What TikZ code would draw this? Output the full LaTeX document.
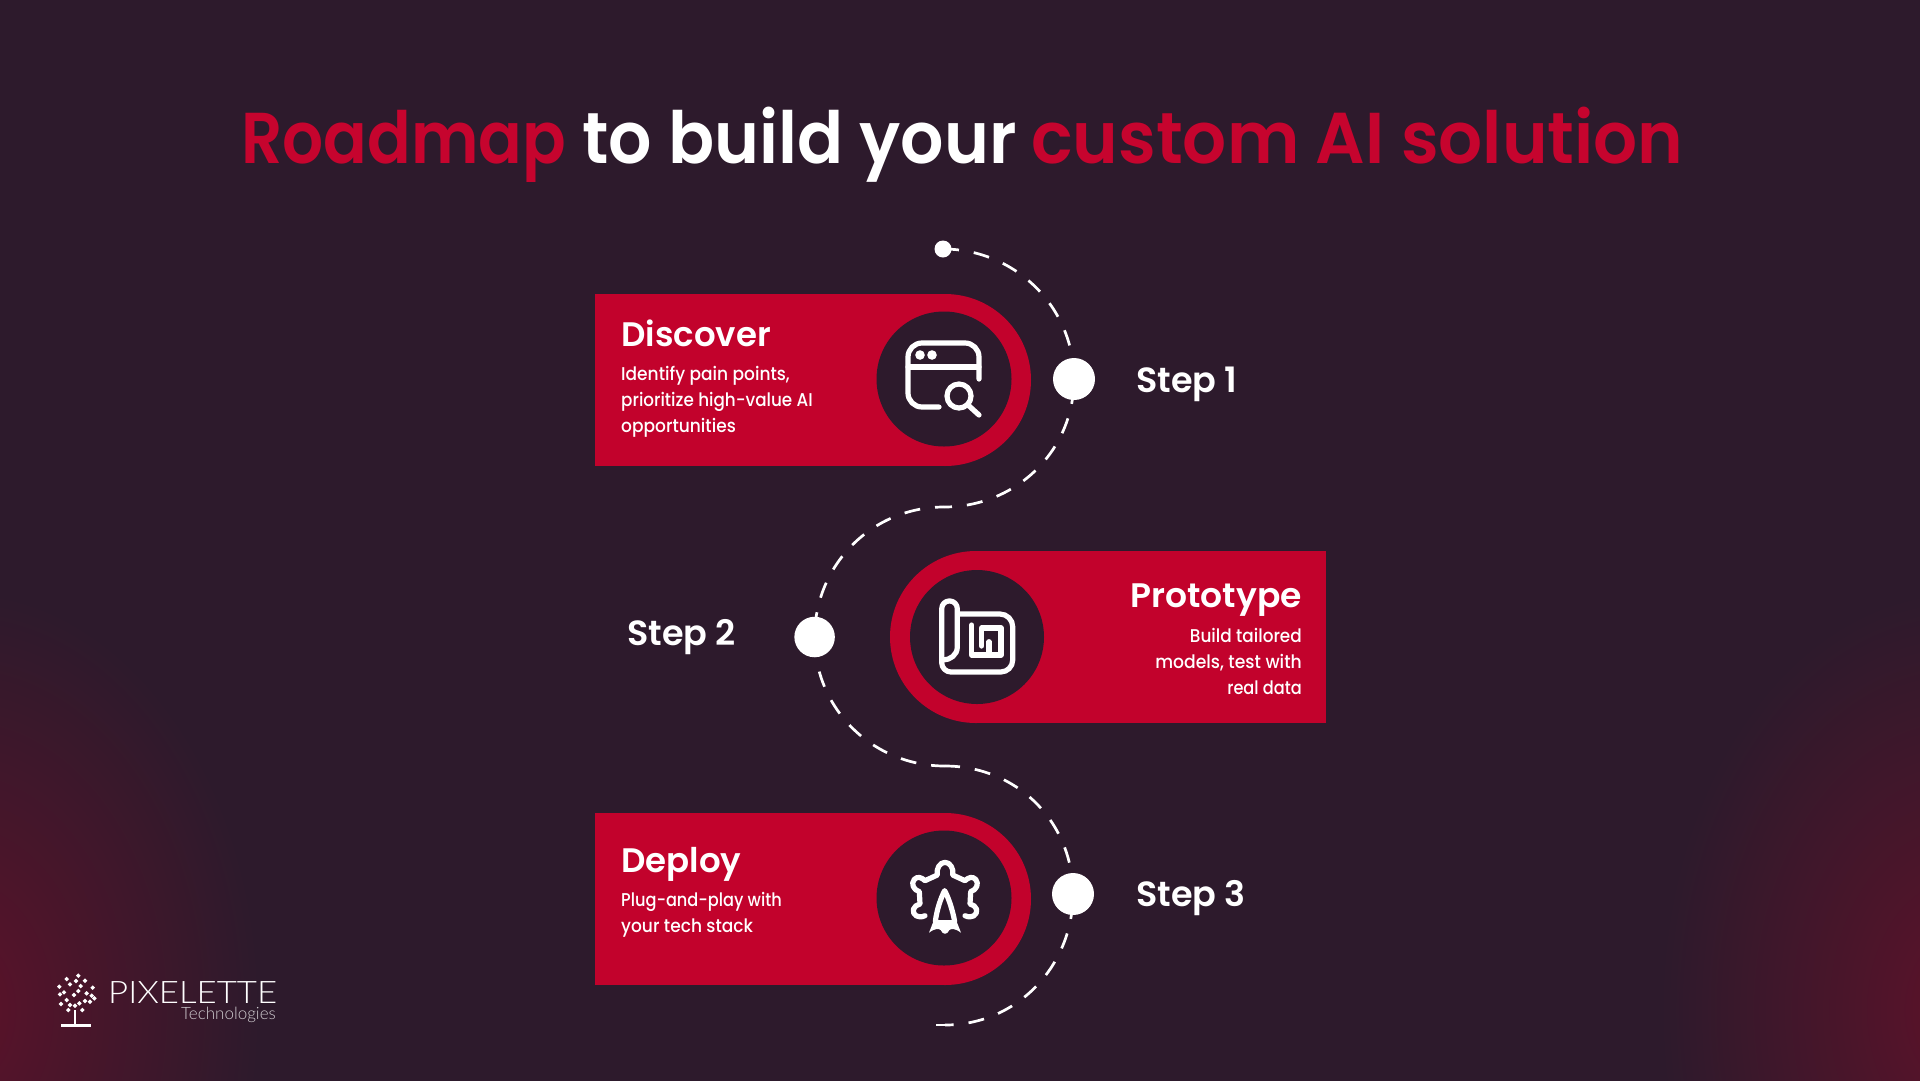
\documentclass[tikz,border=0pt]{standalone}
\usepackage{fontspec}
\setmainfont{Poppins}
\newfontfamily\semi{Poppins SemiBold}
\newfontfamily\body[FakeStretch=0.92]{Poppins Medium}
\newfontfamily\logofont{Lato Light}
\definecolor{bg}{HTML}{2D1A2C}
\definecolor{glow}{HTML}{5C1229}
\definecolor{brand}{HTML}{C2022C}
\definecolor{titlered}{HTML}{C6042E}
\pgfdeclarelayer{front}
\pgfsetlayers{main,front}
\tikzset{
 card/.style={fill=brand},
 hole/.style={fill=bg},
 stepdot/.style={circle,fill=white,inner sep=0pt,minimum size=42pt},
 route/.style={draw=white,line width=2.7pt,dash pattern=on 16pt off 15pt},
 head/.style={text=white,font=\semi\fontsize{34}{40}\selectfont,inner sep=0pt},
 titletxt/.style={anchor=base west,inner sep=0pt,font=\semi\fontsize{72}{80}\selectfont},
 bodytxt/.style={text=white,font=\body\fontsize{18.5}{26}\selectfont,inner sep=0pt,align=left},
 steplabel/.style={text=white,font=\semi\fontsize{35}{40}\selectfont,inner sep=0pt,anchor=base west},
 ico/.style={draw=white,line width=5.2pt,line cap=round,line join=round}
}
\begin{document}
\begin{tikzpicture}[x=1pt,y=-1pt]
\useasboundingbox (0,0) rectangle (1920,1080);
\fill[bg] (-5,-5) rectangle (1925,1085);
\shade[inner color=glow,outer color=bg] (-40,1010) ellipse (300 and 420);
\shade[inner color=glow,outer color=bg] (1960,1010) ellipse (300 and 420);
% title
\node[titletxt,text=titlered] (t1) at (241,163) {\scalebox{.895}[1]{Roadmap}};
\node[titletxt,text=white] (t2) at (582,163) {\scalebox{.945}[1]{to build your}};
\node[titletxt,text=titlered] (t3) at (1031,163) {\scalebox{.96}[1]{custom AI solution}};
% cards
\fill[card] (595,294) rectangle (945,466);
\fill[card] (945,380) circle[radius=86];
\fill[hole] (944,379) circle[radius=67.5];
\fill[card] (976,551) rectangle (1326,723);
\fill[card] (976,637) circle[radius=86];
\fill[hole] (977,637) circle[radius=67];
\fill[card] (595,813) rectangle (945,985);
\fill[card] (945,899) circle[radius=86];
\fill[hole] (944,898) circle[radius=67.5];
% stations
\coordinate (m1) at (944,507);
\coordinate (m2) at (945,766);
\coordinate (m3) at (945,1025);
\coordinate (endp) at (936,1025);
\begin{pgfonlayer}{front}
\node[stepdot,minimum size=17pt] (d0) at (943,249) {};
\node[stepdot] (d1) at (1074,379) {};
\node[stepdot,minimum size=40.5pt] (d2) at (814.6,637) {};
\node[stepdot] (d3) at (1073,894) {};
\end{pgfonlayer}
% routes
\draw[route] (d0.center) .. controls +(72,0) and +(0,-72) .. (d1.center);
\draw[route,dash phase=22pt] (d1.center) .. controls +(0,72) and +(72,0) .. (m1);
\draw[route,dash phase=7pt] (m1) .. controls +(-72,0) and +(0,-72) .. (d2.center);
\draw[route,dash phase=27pt] (d2.center) .. controls +(0,72) and +(-72,0) .. (m2);
\draw[route,dash phase=1pt] (m2) .. controls +(72,0) and +(0,-72) .. (d3.center);
\draw[route,dash phase=22pt] (d3.center) .. controls +(0,72) and +(72,0) .. (m3);
\draw[route] (m3) -- (endp);
% texts
\node[head,anchor=base west] (h1) at (621,346) {Discover};
\node[bodytxt,anchor=base west] (b1a) at (621,380.5) {Identify pain points,};
\node[bodytxt,anchor=base west] (b1b) at (621,406.5) {\scalebox{.985}[1]{prioritize high-value AI}};
\node[bodytxt,anchor=base west] (b1c) at (621,432.5) {opportunities};
\node[head,anchor=base east] (h2) at (1302,607) {\scalebox{1.015}[1]{Prototype}};
\node[bodytxt,anchor=base east] (b2a) at (1302,642) {\scalebox{.99}[1]{Build tailored}};
\node[bodytxt,anchor=base east] (b2b) at (1302,668) {\scalebox{1.01}[1]{models, test with}};
\node[bodytxt,anchor=base east] (b2c) at (1302,694) {\scalebox{.95}[1]{real data}};
\node[head,anchor=base west] (h3) at (621,872) {Deploy};
\node[bodytxt,anchor=base west] (b3a) at (621,906) {\scalebox{.95}[1]{Plug-and-play with}};
\node[bodytxt,anchor=base west] (b3b) at (621,932) {your tech stack};
\node[steplabel] (s1) at (1136,392) {Step 1};
\node[steplabel] (s2) at (627,645) {Step 2};
\node[steplabel] (s3) at (1136,906) {Step 3};
% icon 1
\draw[ico] (979,379) -- (979,357) arc[start angle=0,end angle=-90,radius=14] -- (922,343) arc[start angle=-90,end angle=-180,radius=14] -- (908,393) arc[start angle=180,end angle=90,radius=14] -- (939,407);
\draw[ico] (908,367) -- (979,367);
\fill[white] (920,355) circle[radius=4.8] (932,355) circle[radius=4.8];
\draw[ico] (959,396) circle[radius=12];
\draw[ico] (968,405) -- (979,415);
% icon 2
\draw[ico] (957.3,614) -- (1000,614) arc[start angle=-90,end angle=0,radius=12.7] -- (1012.7,660) arc[start angle=0,end angle=90,radius=12] -- (951,672) arc[start angle=90,end angle=180,radius=9.3] -- (941.7,608.7) arc[start angle=180,end angle=360,radius=7.8] -- (957.3,647) .. controls (957.3,655) and (950,660) .. (943,660);
\draw[ico] (971.7,625) -- (971.7,655) -- (1001,655) -- (1001,628) -- (981.7,628) -- (981.7,646);
\draw[ico] (989,655) -- (989,641.7);
% icon 3
\begin{scope}[shift={(860,820)},scale=1/3]
\draw[ico] (195,287) .. controls (175,297) and (157,285) .. (160,268) .. controls (162,258) and (172,255) .. (180,252) -- (178,215) .. controls (160,210) and (152,190) .. (163,178) .. controls (172,168) and (185,172) .. (195,182) -- (232,165) .. controls (228,145) and (240,127) .. (255,127) .. controls (270,127) and (282,145) .. (278,165) -- (315,182) .. controls (325,172) and (338,168) .. (347,178) .. controls (358,190) and (350,210) .. (332,215) -- (330,252) .. controls (338,255) and (348,258) .. (350,268) .. controls (353,285) and (335,297) .. (315,287);
\draw[ico] (226,305) .. controls (230,270) and (243,232) .. (254,212) .. controls (265,232) and (278,270) .. (284,305);
\fill[white] (222,300) -- (288,300) -- (303,338) .. controls (285,325) and (275,325) .. (268,330) .. controls (262,345) and (248,345) .. (242,330) .. controls (235,325) and (225,325) .. (207,338) -- cycle;
\end{scope}
% logo
\begin{scope}[shift={(50,965)},scale=1/3]
\foreach \p in {(85,32),(50,42),(78,48),(105,47),(60,58),(92,63),(128,68),(28,65),(42,82),(85,78),(110,85),(72,90),(30,88),(125,92),(133,100),(50,105),(88,115),(105,108),(120,110),(33,117),(60,120),(75,122),(55,135),(97,135)}
 \fill[white] \p ++(-7,0) -- ++(7,-7) -- ++(7,7) -- ++(-7,7) -- cycle;
\draw[white,line width=2.2pt] (75,135) -- (75,180);
\draw[white,line width=2.8pt] (33,181) -- (122,181);
\end{scope}
\node[anchor=base west,inner sep=0pt,text=white,font=\logofont\fontsize{31}{36}\selectfont] (logo) at (108,1003) {\scalebox{1.12}[1]{PIXELETTE}};
\node[anchor=base east,inner sep=0pt,text=white!78!bg,font=\logofont\fontsize{17}{20}\selectfont] (logosub) at (276,1019) {Technologies};
\end{tikzpicture}
\end{document}
